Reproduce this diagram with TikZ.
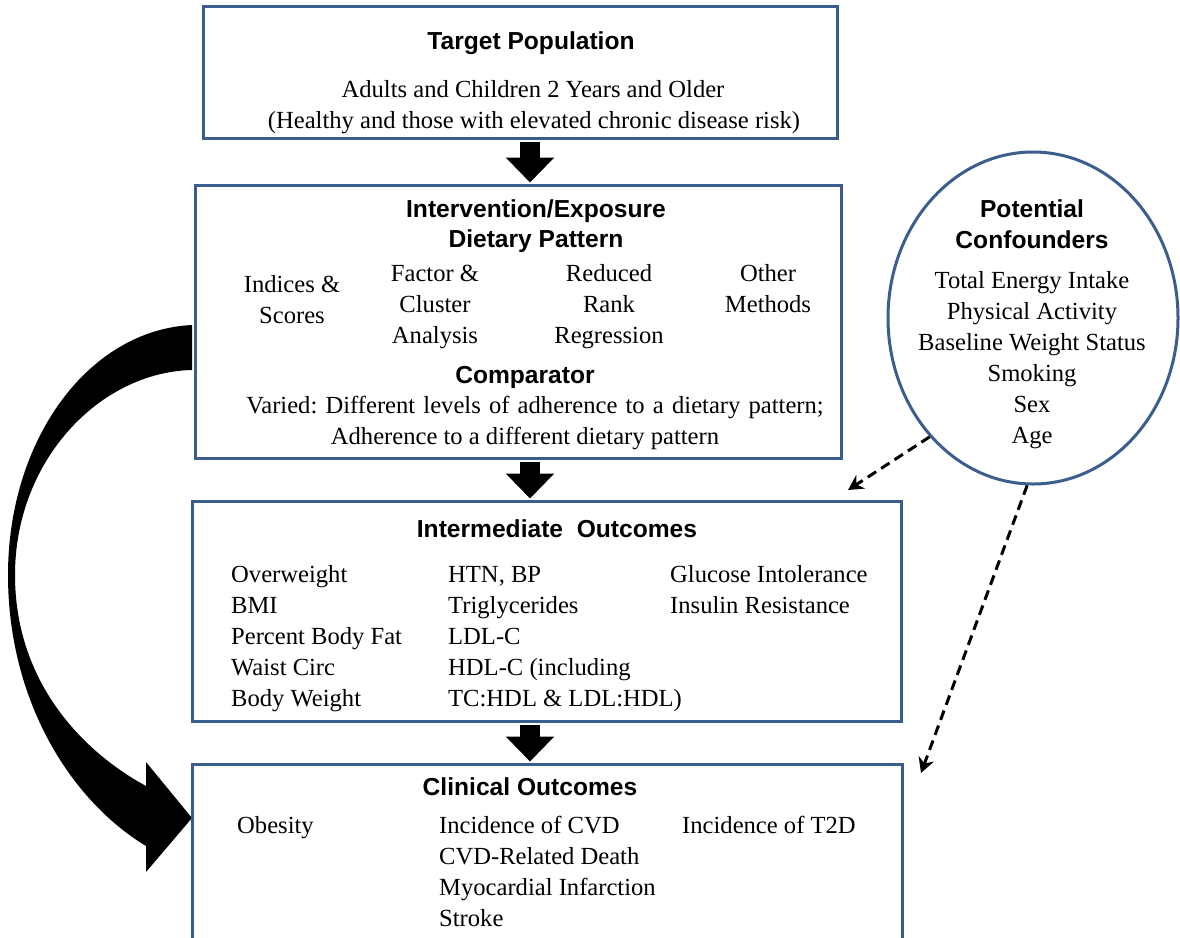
\documentclass[tikz,border=0pt]{standalone}
\usepackage{fontspec}
\setmainfont{Liberation Serif}
\newfontfamily\hdfont{Liberation Sans}
\usetikzlibrary{arrows.meta,shapes.geometric}
\definecolor{boxblue}{HTML}{3B5E8C}
\newcommand{\bodyf}{\fontsize{24.6}{31}\selectfont}
\newcommand{\headf}{\hdfont\bfseries\fontsize{24.6}{30}\selectfont}
\newcommand{\mlc}[1]{\begin{tabular}[t]{@{}c@{}}#1\end{tabular}}
\newcommand{\mll}[1]{\begin{tabular}[t]{@{}l@{}}#1\end{tabular}}
\frenchspacing
\begin{document}
\begin{tikzpicture}[x=1pt,y=-1pt,
  box/.style={draw=boxblue, line width=3pt, fill=white, inner sep=0pt},
  hd/.style={font=\headf, inner sep=0pt, anchor=base},
  bd/.style={font=\bodyf, inner sep=0pt, anchor=base},
  bdl/.style={font=\bodyf, inner sep=0pt, anchor=base west},
  fatarrow/.style={line width=20pt, -{Triangle[width=47pt,length=25pt]}, shorten <=2pt, shorten >=1pt},
  dasharrow/.style={line width=3pt, dash pattern=on 10pt off 6pt, -{Stealth[length=15pt,width=16pt]}}]
\useasboundingbox (0,0) rectangle (1180,937);
\clip (0,0) rectangle (1180,937);
\fill[white] (0,0) rectangle (1180,937);

% curved arrow
\fill[black] (192,325) .. controls (88,330) and (8,440) .. (8,575)
  .. controls (8,700) and (70,800) .. (146,846) -- (146,872) -- (192,818) -- (146,762) -- (146,786)
  .. controls (80,750) and (15,680) .. (15,575)
  .. controls (15,460) and (100,372) .. (192,370) -- cycle;

% boxes
\node[box, minimum width=634pt, minimum height=132pt] (tp) at (520,72) {};
\node[box, minimum width=646pt, minimum height=273pt] (ie) at (518,321.5) {};
\node[box, minimum width=709pt, minimum height=220pt] (io) at (546.5,611) {};
\node[box, minimum width=710pt, minimum height=200pt] (co) at (547,864) {};
\node[draw=boxblue, line width=3pt, ellipse, fill=white, minimum width=290pt, minimum height=332pt, inner sep=0pt] (conf) at (1033,318) {};

% fat arrows
\coordinate (ax) at (530,0);
\draw[fatarrow] (tp.south -| ax) -- (ie.north -| ax);
\draw[fatarrow] (ie.south -| ax) -- (io.north -| ax);
\draw[fatarrow] (io.south -| ax) -- (co.north -| ax);

% dashed arrows
\coordinate (ca) at (848,490);
\coordinate (cb) at (921,773);
\draw[dasharrow] (conf.229) -- (ca);
\draw[dasharrow] (conf.268) -- (cb);

% box 1 text
\node[hd] (tpt) at (531,49) {Target Population};
\node[bd] (tp1) at (533,97) {Adults and Children 2 Years and Older};
\node[bd] (tp2) at (534,128) {(Healthy and those with elevated chronic disease risk)};

% box 2 text
\node[hd] (iet1) at (536,217) {Intervention/Exposure};
\node[hd] (iet2) at (536,247) {Dietary Pattern};
\node[bd] (c1) at (292,292) {\mlc{Indices \&\\Scores}};
\node[bd] (c2) at (435,281) {\mlc{Factor \&\\Cluster\\Analysis}};
\node[bd] (c3) at (609,281) {\mlc{Reduced\\Rank\\Regression}};
\node[bd] (c4) at (768,281) {\mlc{Other\\Methods}};
\node[hd] (cmp) at (525,383) {Comparator};
\node[bd] (cmp1) at (535,413) {\spaceskip=8.2pt Varied: Different levels of adherence to a dietary pattern;};
\node[bd] (cmp2) at (525,444) {Adherence to a different dietary pattern};

% box 3 text
\node[hd] (iot) at (557,537) {Intermediate\ \ Outcomes};
\node[bdl] (io1) at (231,582) {\mll{Overweight\\BMI\\Percent Body Fat\\Waist Circ\\Body Weight}};
\node[bdl] (io2) at (448,582) {\mll{HTN, BP\\Triglycerides\\LDL-C\\HDL-C (including\\TC:HDL \& LDL:HDL)}};
\node[bdl] (io3) at (670,582) {\mll{Glucose Intolerance\\Insulin Resistance}};

% box 4 text
\node[hd] (cot) at (530,795) {Clinical Outcomes};
\node[bdl] (co1) at (237,833) {Obesity};
\node[bdl] (co2) at (439,833) {\mll{Incidence of CVD\\CVD-Related Death\\Myocardial Infarction\\Stroke}};
\node[bdl] (co3) at (682,833) {Incidence of T2D};

% circle text
\node[hd] (cft1) at (1032,217) {Potential};
\node[hd] (cft2) at (1032,248) {Confounders};
\node[bd] (cf) at (1032,288) {\mlc{Total Energy Intake\\Physical Activity\\Baseline Weight Status\\Smoking\\Sex\\Age}};
\end{tikzpicture}
\end{document}
